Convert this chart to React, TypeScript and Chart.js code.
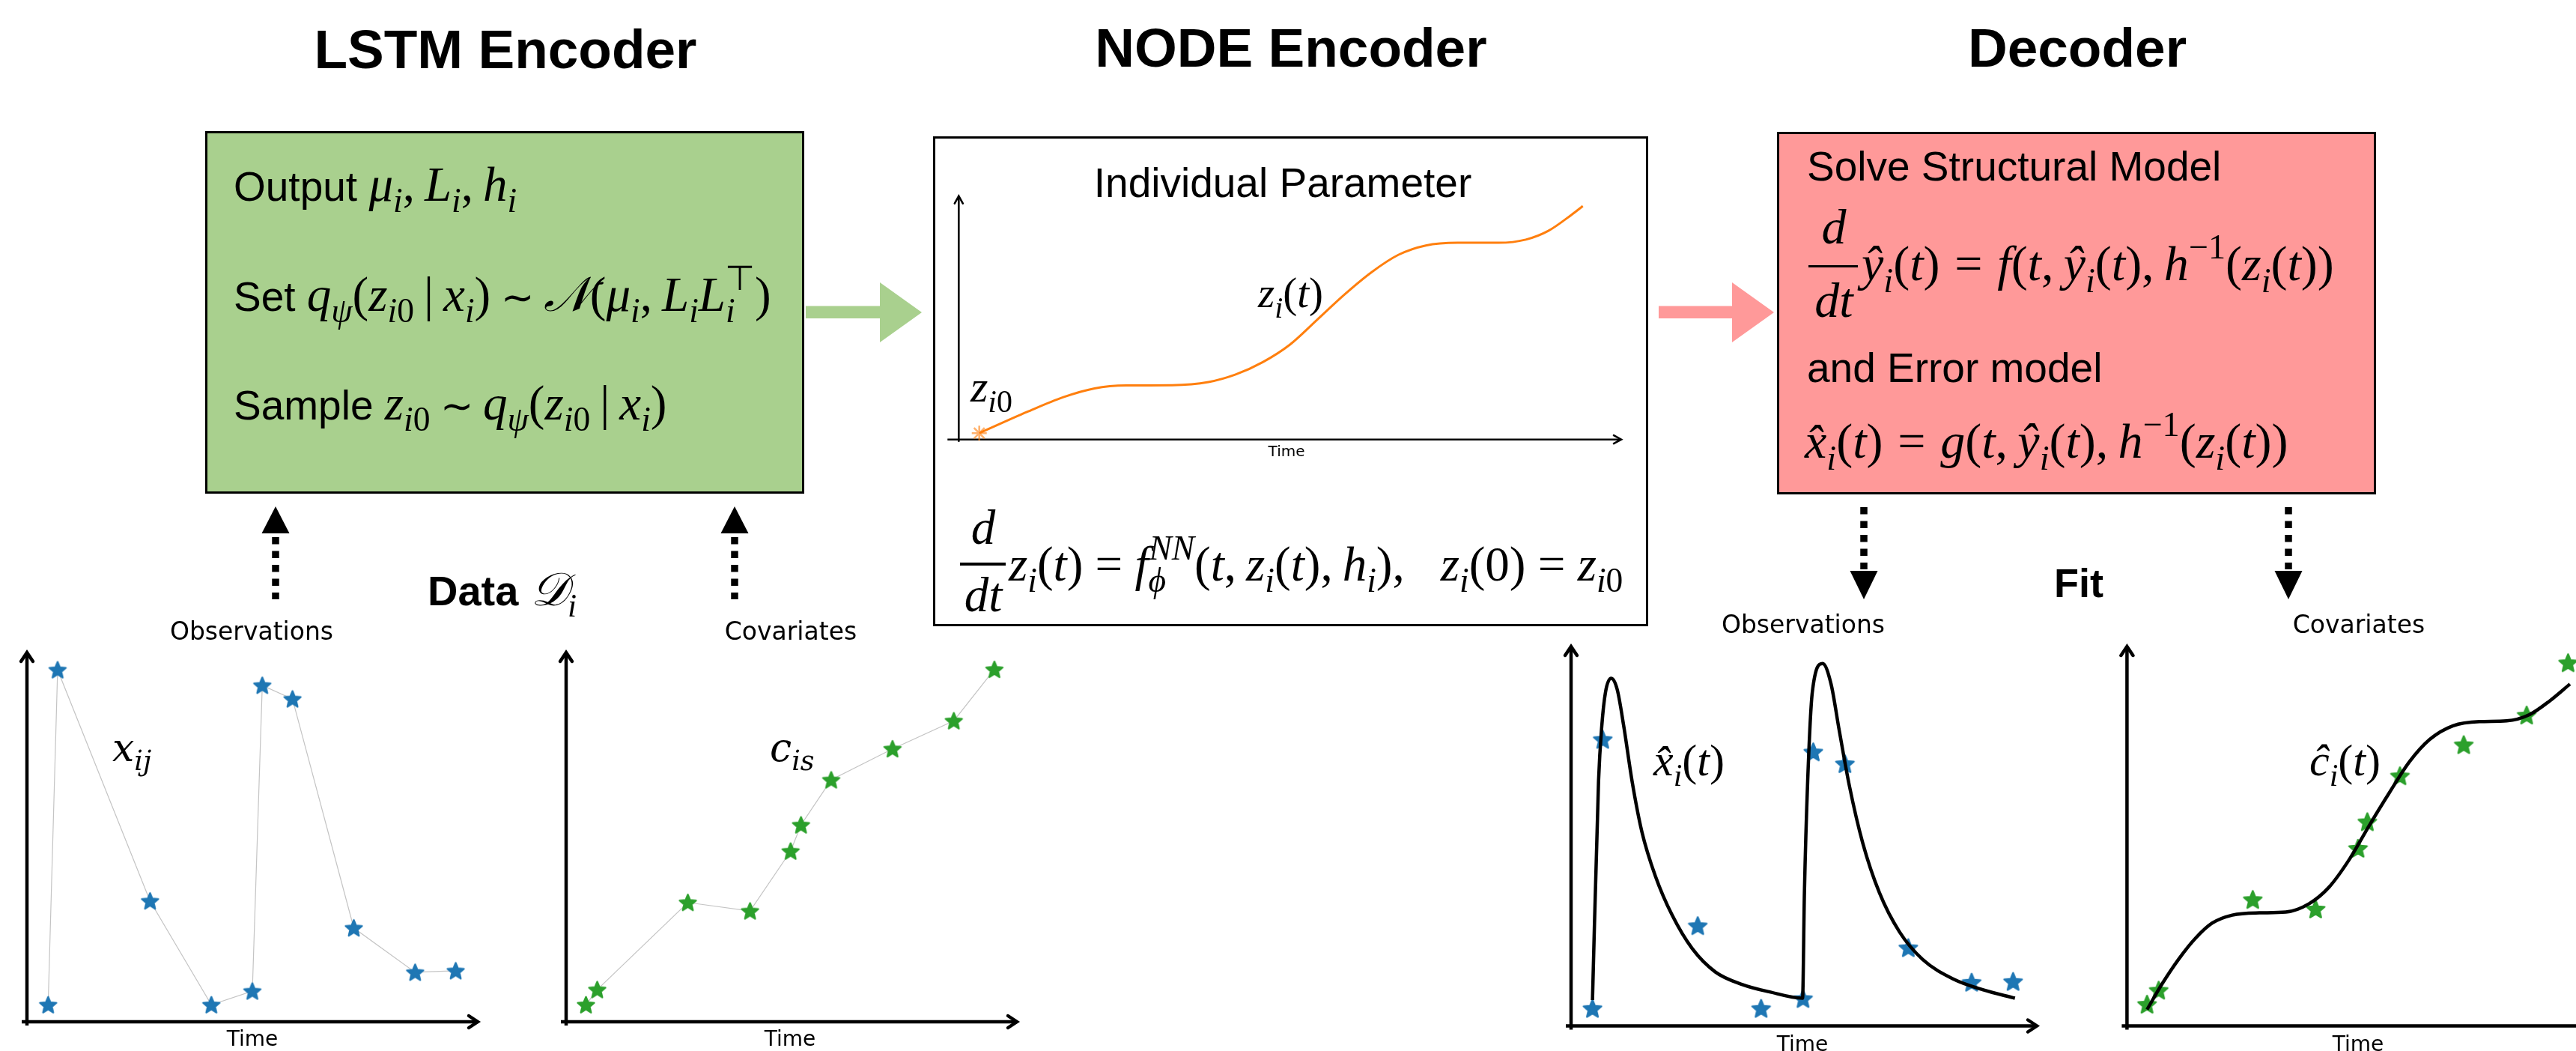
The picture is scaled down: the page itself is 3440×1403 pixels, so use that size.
import React, { useEffect, useRef } from 'react';
import { Chart, registerables } from 'chart.js';

Chart.register(...registerables);

// ---------------- data ----------------
// Encoder input: observations x_ij
const obsTimes = [0.47, 0.68, 2.73, 4.09, 5.0, 5.22, 5.89, 7.25, 8.61, 9.51];
const obsValues = [0.46, 9.53, 3.27, 0.46, 0.83, 9.11, 8.74, 2.54, 1.34, 1.38];
// Encoder input: covariates c_is
const covTimes = [0.44, 0.69, 2.7, 4.08, 4.98, 5.21, 5.88, 7.24, 8.6, 9.5];
const covValues = [0.46, 0.87, 3.23, 3.0, 4.62, 5.33, 6.55, 7.39, 8.15, 9.54];
// Latent individual parameter z_i(t)
const latentTimes = [0.31, 1.03, 1.58, 2.05, 2.53, 3.22, 3.77, 4.18, 4.59, 5.0, 5.41, 5.82, 6.23, 6.64, 7.05, 7.53, 8.15, 8.56, 8.9, 9.25, 9.42];
const latentValues = [0.26, 1.13, 1.74, 2.1, 2.22, 2.23, 2.36, 2.67, 3.18, 3.9, 4.92, 5.95, 6.87, 7.59, 7.97, 8.08, 8.08, 8.21, 8.57, 9.23, 9.59];
const latentStart = [0.31, 0.26];
// Decoder fit: observations
const fitObsTimes = [0.46, 0.68, 2.72, 4.08, 4.98, 5.2, 5.88, 7.24, 8.6, 9.49];
const fitObsValues = [0.46, 7.55, 2.64, 0.46, 0.72, 7.22, 6.91, 2.06, 1.15, 1.17];
const fitObsCurveTimes = [0.46, 0.59, 0.66, 0.74, 0.86, 0.99, 1.13, 1.31, 1.52, 1.81, 2.17, 2.6, 3.1, 3.68, 4.25, 4.97, 5.01, 5.08, 5.18, 5.4, 5.58, 5.76, 5.98, 6.26, 6.62, 7.05, 7.55, 8.2, 8.85, 9.53];
const fitObsCurveValues = [0.68, 6.45, 7.91, 8.8, 9.16, 8.87, 7.91, 6.45, 5.12, 3.95, 2.92, 2.04, 1.42, 1.09, 0.9, 0.73, 3.51, 6.45, 8.8, 9.55, 9.02, 7.77, 6.3, 4.83, 3.51, 2.48, 1.75, 1.24, 0.95, 0.73];
// Decoder fit: covariates
const fitCovTimes = [0.43, 0.68, 2.7, 4.05, 4.96, 5.16, 5.86, 7.23, 8.58, 9.47];
const fitCovValues = [0.57, 0.94, 3.33, 3.08, 4.68, 5.38, 6.59, 7.41, 8.19, 9.57];
const fitCovCurveTimes = [0.43, 0.75, 1.11, 1.47, 1.83, 2.26, 2.84, 3.41, 3.91, 4.34, 4.78, 5.2, 5.64, 6.07, 6.5, 7.0, 7.57, 8.15, 8.65, 9.08, 9.51];
const fitCovCurveValues = [0.43, 1.1, 1.76, 2.31, 2.71, 2.92, 2.98, 3.0, 3.22, 3.66, 4.4, 5.28, 6.16, 6.97, 7.55, 7.91, 8.02, 8.04, 8.21, 8.57, 9.01];
const AXIS_MAX = 10;

// ---------------- styling ----------------
const BLUE = '#1f77b4';
const GREEN = '#2ca02c';
const ORANGE = '#ff7f0e';
const BOX_GREEN = '#A9D08E';
const BOX_PINK = '#FF9999';

const FAM: Record<string, string> = {
  sans: '"Liberation Sans", Arial, Helvetica, sans-serif',
  serif: '"Liberation Serif", "Times New Roman", serif',
  dejavu: '"DejaVu Sans", sans-serif',
  dserif: '"DejaVu Serif", serif',
};
const METRICS: Record<string, [number, number]> = {
  sans: [0.905, 0.212],
  serif: [0.891, 0.216],
  dejavu: [0.928, 0.236],
  dserif: [0.928, 0.236],
};

const pts = (xs: number[], ys: number[]) => xs.map((x, i) => ({ x, y: ys[i] }));

function makeStar(color: string, r: number) {
  const c = document.createElement('canvas');
  const s = Math.ceil(r * 2 + 6);
  c.width = s;
  c.height = s;
  const ctx = c.getContext('2d')!;
  ctx.fillStyle = color;
  ctx.strokeStyle = color;
  ctx.lineWidth = 2.4;
  ctx.lineJoin = 'round';
  ctx.beginPath();
  for (let k = 0; k < 10; k++) {
    const ang = -Math.PI / 2 + (k * Math.PI) / 5;
    const rr = k % 2 === 0 ? r : r * 0.45;
    ctx.lineTo(s / 2 + rr * Math.cos(ang), s / 2 + rr * Math.sin(ang) + r * 0.08);
  }
  ctx.closePath();
  ctx.fill();
  ctx.stroke();
  return c;
}

const arrowAxes = {
  id: 'arrowAxes',
  beforeDatasetsDraw(chart: any, _a: any, o: any) {
    const { ctx } = chart;
    const xs = chart.scales.x;
    const ys = chart.scales.y;
    const x0 = xs.getPixelForValue(0);
    const y0 = ys.getPixelForValue(0);
    const x1 = xs.getPixelForValue(AXIS_MAX);
    const y1 = ys.getPixelForValue(AXIS_MAX);
    ctx.save();
    ctx.strokeStyle = '#000';
    ctx.lineWidth = o.lw;
    ctx.lineCap = 'butt';
    ctx.beginPath();
    ctx.moveTo(x0 - o.extX, y0);
    ctx.lineTo(x1 - o.lw * 0.6, y0);
    ctx.moveTo(x0, y0 + o.extY);
    ctx.lineTo(x0, y1 + o.lw * 0.6);
    ctx.stroke();
    ctx.lineCap = 'round';
    ctx.lineJoin = 'miter';
    ctx.beginPath();
    ctx.moveTo(x1 - o.head, y0 - o.half);
    ctx.lineTo(x1, y0);
    ctx.lineTo(x1 - o.head, y0 + o.half);
    ctx.moveTo(x0 - o.half, y1 + o.head);
    ctx.lineTo(x0, y1);
    ctx.lineTo(x0 + o.half, y1 + o.head);
    ctx.stroke();
    ctx.restore();
  },
};

type Spec = {
  left: number; top: number; w: number; h: number;
  ox: number; oy: number; sx: number; sy: number;
  lw: number; head: number; half: number; extX: number; extY: number;
  datasets: () => any[];
};

function makeConfig(spec: Spec): any {
  const cx0 = spec.ox - spec.left;
  const cy0 = spec.oy - spec.top;
  return {
    type: 'scatter',
    data: { datasets: spec.datasets() },
    options: {
      animation: false,
      responsive: true,
      maintainAspectRatio: false,
      events: [],
      layout: { padding: 0, autoPadding: false },
      plugins: {
        legend: { display: false },
        tooltip: { enabled: false },
        title: { display: false },
        arrowAxes: { lw: spec.lw, head: spec.head, half: spec.half, extX: spec.extX, extY: spec.extY },
      },
      scales: {
        x: { type: 'linear', display: false, min: -cx0 / spec.sx, max: (spec.w - cx0) / spec.sx },
        y: { type: 'linear', display: false, min: -(spec.h - cy0) / spec.sy, max: cy0 / spec.sy },
      },
    },
    plugins: [arrowAxes],
  };
}

const specs: Record<string, Spec> = {
  obs: {
    left: 0, top: 850, w: 680, h: 553, ox: 36, oy: 1364, sx: 60.2, sy: 49.3,
    lw: 4.5, head: 12, half: 8, extX: 7, extY: 5,
    datasets: () => [
      { data: pts(obsTimes, obsValues), showLine: true, borderColor: '#c4c4c4', borderWidth: 1.2,
        pointStyle: makeStar(BLUE, 11.5), pointRadius: 11, clip: false },
    ],
  },
  cov: {
    left: 700, top: 850, w: 700, h: 553, ox: 756, oy: 1364, sx: 60.2, sy: 49.3,
    lw: 4.5, head: 12, half: 8, extX: 7, extY: 5,
    datasets: () => [
      { data: pts(covTimes, covValues), showLine: true, borderColor: '#c4c4c4', borderWidth: 1.2,
        pointStyle: makeStar(GREEN, 11.5), pointRadius: 11, clip: false },
    ],
  },
  latent: {
    left: 1255, top: 250, w: 930, h: 370, ox: 1280.3, oy: 586.7, sx: 88.47, sy: 32.5,
    lw: 2.6, head: 10, half: 5.5, extX: 15, extY: 3,
    datasets: () => [
      { data: pts([latentStart[0]], [latentStart[1]]), showLine: false, pointStyle: 'star',
        pointRadius: 10, borderColor: 'rgba(255,127,14,0.6)', borderWidth: 2.6, clip: false },
      { data: pts(latentTimes, latentValues), showLine: true, borderColor: ORANGE, borderWidth: 3,
        pointRadius: 0, cubicInterpolationMode: 'monotone', clip: false },
    ],
  },
  fitObs: {
    left: 2060, top: 850, w: 700, h: 553, ox: 2098, oy: 1369.5, sx: 62.2, sy: 50.65,
    lw: 4.5, head: 12, half: 8, extX: 7, extY: 5,
    datasets: () => [
      { data: pts(fitObsCurveTimes, fitObsCurveValues), showLine: true, borderColor: '#000', borderWidth: 4.5,
        pointRadius: 0, cubicInterpolationMode: 'monotone', clip: false },
      { data: pts(fitObsTimes, fitObsValues), showLine: false, pointStyle: makeStar(BLUE, 12.5), pointRadius: 11, clip: false },
    ],
  },
  fitCov: {
    left: 2800, top: 850, w: 640, h: 553, ox: 2840.4, oy: 1369.5, sx: 62.2, sy: 50.65,
    lw: 4.5, head: 12, half: 8, extX: 7, extY: 5,
    datasets: () => [
      { data: pts(fitCovCurveTimes, fitCovCurveValues), showLine: true, borderColor: '#000', borderWidth: 4.5,
        pointRadius: 0, cubicInterpolationMode: 'monotone', clip: false },
      { data: pts(fitCovTimes, fitCovValues), showLine: false, pointStyle: makeStar(GREEN, 12.5), pointRadius: 11, clip: false },
    ],
  },
};

function Plot({ spec }: { spec: Spec }) {
  const ref = useRef<HTMLCanvasElement | null>(null);
  useEffect(() => {
    const chart = new Chart(ref.current as HTMLCanvasElement, makeConfig(spec));
    return () => chart.destroy();
  }, [spec]);
  return (
    <div style={{ position: 'absolute', left: spec.left, top: spec.top, width: spec.w, height: spec.h }}>
      <canvas ref={ref} />
    </div>
  );
}

// ---------------- text helpers ----------------
function Txt({ x, y, size, font = 'sans', weight = 400, italic = false, anchor = 'start', children }: any) {
  const [A, D] = METRICS[font];
  const L = Math.round(size * 1.3);
  const top = y - ((L - (A + D) * size) / 2 + A * size);
  return (
    <div
      style={{
        position: 'absolute', left: x, top, fontFamily: FAM[font], fontSize: size, fontWeight: weight,
        fontStyle: italic ? 'italic' : 'normal', lineHeight: L + 'px', whiteSpace: 'nowrap', color: '#000',
        transform: anchor === 'middle' ? 'translateX(-50%)' : undefined,
      }}
    >
      {children}
    </div>
  );
}
const M = ({ children, size = 65, fam = 'serif' }: any) => (
  <span style={{ fontFamily: FAM[fam], fontStyle: 'italic', fontWeight: 400, fontSize: size, lineHeight: 0 }}>{children}</span>
);
const U = ({ children }: any) => <span style={{ fontStyle: 'normal' }}>{children}</span>;
const Rel = ({ c, m = 0.3 }: any) => <span style={{ fontStyle: 'normal', margin: `0 ${m}em` }}>{c}</span>;
const Tilde = () => (
  <span style={{ fontStyle: 'normal', fontSize: '0.82em', margin: '0 0.25em' }}>∼</span>
);
const Sub = ({ children }: any) => (
  <span style={{ fontSize: '0.7em', position: 'relative', top: '0.34em' }}>{children}</span>
);
const Sup = ({ children, ml = 0 }: any) => (
  <span style={{ fontSize: '0.7em', position: 'relative', top: '-0.62em', marginLeft: ml }}>{children}</span>
);
const Bar = ({ x1, x2, y }: any) => (
  <div style={{ position: 'absolute', left: x1, top: y - 1.75, width: x2 - x1, height: 3.5, background: '#000' }} />
);

function DottedArrow({ x, y1, y2, tip, base }: any) {
  return (
    <g>
      <line x1={x} y1={y1} x2={x} y2={y2} stroke="#000" strokeWidth={9.5} strokeDasharray="9.6 8.9" />
      <polygon points={`${x},${tip} ${x - 18.5},${base} ${x + 18.5},${base}`} fill="#000" />
    </g>
  );
}

export default function App() {
  const th = '\u2009';
  return (
    <div style={{ position: 'absolute', left: 0, top: 0, width: 3440, height: 1403, overflow: 'hidden', background: '#fff' }}>
      {/* boxes */}
      <div style={{ position: 'absolute', left: 274, top: 175, width: 800, height: 484, background: BOX_GREEN, border: '3px solid #000', boxSizing: 'border-box' }} />
      <div style={{ position: 'absolute', left: 1246, top: 182, width: 955, height: 654, background: '#fff', border: '3px solid #000', boxSizing: 'border-box' }} />
      <div style={{ position: 'absolute', left: 2373, top: 176, width: 800, height: 484, background: BOX_PINK, border: '3px solid #000', boxSizing: 'border-box' }} />

      {/* charts */}
      <Plot spec={specs.obs} />
      <Plot spec={specs.cov} />
      <Plot spec={specs.latent} />
      <Plot spec={specs.fitObs} />
      <Plot spec={specs.fitCov} />

      {/* arrows */}
      <svg width={3440} height={1403} style={{ position: 'absolute', left: 0, top: 0, pointerEvents: 'none' }}>
        <polygon points="1076,408.5 1175,408.5 1175,377 1231,417 1175,457 1175,425 1076,425" fill={BOX_GREEN} />
        <polygon points="2215,408.5 2313,408.5 2313,377 2369,417 2313,457 2313,425 2215,425" fill={BOX_PINK} />
        <DottedArrow x={368} y1={717} y2={800} tip={676} base={712} />
        <DottedArrow x={981} y1={717} y2={800} tip={676} base={712} />
        <DottedArrow x={2489} y1={677} y2={760} tip={800} base={762} />
        <DottedArrow x={3056} y1={677} y2={760} tip={800} base={762} />
      </svg>

      {/* titles */}
      <Txt x={675} y={91} size={73} weight={700} anchor="middle">LSTM Encoder</Txt>
      <Txt x={1724} y={89} size={73} weight={700} anchor="middle">NODE Encoder</Txt>
      <Txt x={2774} y={89} size={73} weight={700} anchor="middle">Decoder</Txt>

      {/* LSTM box */}
      <Txt x={312} y={268} size={55}>
        Output <M>μ<Sub>i</Sub><U>,{th}</U>L<Sub>i</Sub><U>,{th}</U>h<Sub>i</Sub></M>
      </Txt>
      <Txt x={312} y={415} size={55}>
        Set <M>q<Sub>ψ</Sub><U>(</U>z<Sub>i<U>0</U></Sub><U>{th}|{th}</U>x<Sub>i</Sub><U>)</U><Tilde />𝒩<U>(</U>μ<Sub>i</Sub><U>,{th}</U>L<Sub>i</Sub>L<Sub>i</Sub><Sup ml="-0.3em"><span style={{ fontFamily: FAM.sans, fontStyle: 'normal' }}>⊤</span></Sup><U>)</U></M>
      </Txt>
      <Txt x={312} y={560} size={55}>
        Sample <M>z<Sub>i<U>0</U></Sub><Tilde />q<Sub>ψ</Sub><U>(</U>z<Sub>i<U>0</U></Sub><U>{th}|{th}</U>x<Sub>i</Sub><U>)</U></M>
      </Txt>

      {/* NODE box */}
      <Txt x={1713} y={263} size={55} anchor="middle">Individual Parameter</Txt>
      <Txt x={1718} y={609} size={20} font="dejavu" anchor="middle">Time</Txt>
      <Txt x={1296} y={537} size={60}><M size={60}>z<Sub>i<U>0</U></Sub></M></Txt>
      <Txt x={1680} y={410} size={55}><M size={57}>z<Sub>i</Sub><U>(</U>t<U>)</U></M></Txt>
      <Txt x={1313} y={726} size={55} anchor="middle"><M>d</M></Txt>
      <Bar x1={1282} x2={1343} y={753} />
      <Txt x={1313} y={816} size={55} anchor="middle"><M>dt</M></Txt>
      <Txt x={1347} y={775} size={55}>
        <M>z<Sub>i</Sub><U>(</U>t<U>)</U><Rel c="=" m={0.25} />f<Sub>ϕ</Sub><Sup ml="-0.5em">NN</Sup><U>(</U>t<U>,{th}</U>z<Sub>i</Sub><U>(</U>t<U>),{th}</U>h<Sub>i</Sub><U>),</U><span style={{ display: 'inline-block', width: 48 }} />z<Sub>i</Sub><U>(0)</U><Rel c="=" m={0.25} />z<Sub>i<U>0</U></Sub></M>
      </Txt>

      {/* Decoder box */}
      <Txt x={2413} y={241} size={55}>Solve Structural Model</Txt>
      <Txt x={2449} y={325} size={55} anchor="middle"><M size={66}>d</M></Txt>
      <Bar x1={2415} x2={2481} y={355.5} />
      <Txt x={2449} y={423} size={55} anchor="middle"><M size={66}>dt</M></Txt>
      <Txt x={2486} y={374} size={55}>
        <M size={66}>ŷ<Sub>i</Sub><U>(</U>t<U>)</U><Rel c="=" />f<U>(</U>t<U>,{th}</U>ŷ<Sub>i</Sub><U>(</U>t<U>),{th}</U>h<Sup><U>−1</U></Sup><U>(</U>z<Sub>i</Sub><U>(</U>t<U>))</U></M>
      </Txt>
      <Txt x={2413} y={510} size={55}>and Error model</Txt>
      <Txt x={2410} y={611} size={55}>
        <M size={66}>x̂<Sub>i</Sub><U>(</U>t<U>)</U><Rel c="=" />g<U>(</U>t<U>,{th}</U>ŷ<Sub>i</Sub><U>(</U>t<U>),{th}</U>h<Sup><U>−1</U></Sup><U>(</U>z<Sub>i</Sub><U>(</U>t<U>))</U></M>
      </Txt>

      {/* data / fit labels */}
      <Txt x={336} y={854} size={33} font="dejavu" anchor="middle">Observations</Txt>
      <Txt x={1056} y={854} size={33} font="dejavu" anchor="middle">Covariates</Txt>
      <Txt x={571} y={808} size={56} weight={700}>Data</Txt>
      <Txt x={709} y={808} size={56}><M size={62}>𝒟<Sub>i</Sub></M></Txt>
      <Txt x={2743} y={797} size={54} weight={700}>Fit</Txt>
      <Txt x={2408} y={845} size={33} font="dejavu" anchor="middle">Observations</Txt>
      <Txt x={3150} y={845} size={33} font="dejavu" anchor="middle">Covariates</Txt>

      {/* plot labels */}
      <Txt x={150} y={1016} size={52} font="dserif"><M size={52} fam="dserif">x<Sub>ij</Sub></M></Txt>
      <Txt x={1028} y={1016} size={52} font="dserif"><M size={52} fam="dserif">c<Sub>is</Sub></M></Txt>
      <Txt x={2208} y={1035} size={55}><M size={60}>x̂<Sub>i</Sub><U>(</U>t<U>)</U></M></Txt>
      <Txt x={3084} y={1035} size={55}><M size={60}>ĉ<Sub>i</Sub><U>(</U>t<U>)</U></M></Txt>
      <Txt x={337} y={1397} size={28} font="dejavu" anchor="middle">Time</Txt>
      <Txt x={1055} y={1397} size={28} font="dejavu" anchor="middle">Time</Txt>
      <Txt x={2407} y={1404} size={28} font="dejavu" anchor="middle">Time</Txt>
      <Txt x={3149} y={1404} size={28} font="dejavu" anchor="middle">Time</Txt>
    </div>
  );
}
